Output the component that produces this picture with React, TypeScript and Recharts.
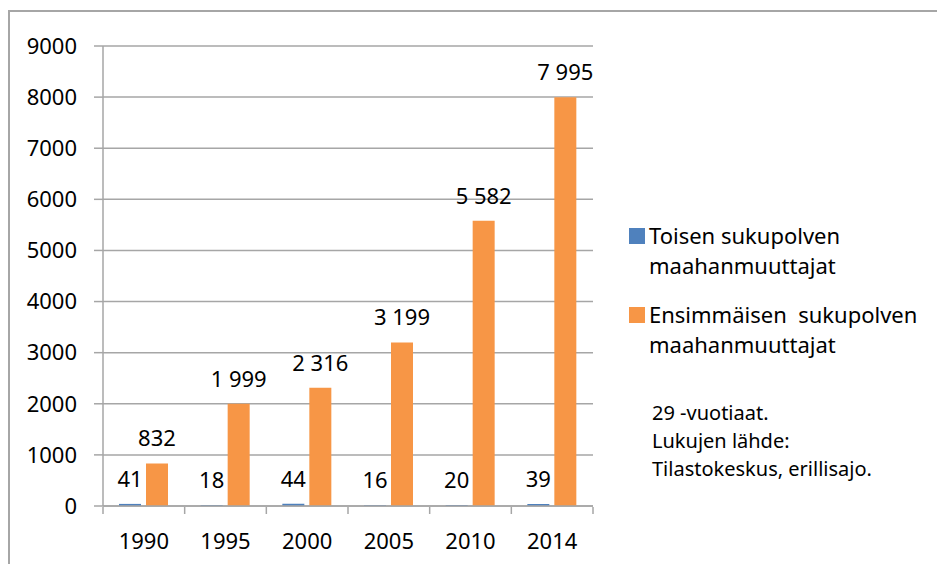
import React from 'react';
import {
  BarChart,
  Bar,
  XAxis,
  YAxis,
  CartesianGrid,
  Legend,
  LabelList,
} from 'recharts';

const years = ['1990', '1995', '2000', '2005', '2010', '2014'];
const toinen = [41, 18, 44, 16, 20, 39];
const ensimmainen = [832, 1999, 2316, 3199, 5582, 7995];
const yTicks = [0, 1000, 2000, 3000, 4000, 5000, 6000, 7000, 8000, 9000];
const noteLines = ['29 -vuotiaat.', 'Lukujen lähde:', 'Tilastokeskus, erillisajo.'];

const SERIES = [
  { key: 'toinen', name: 'Toisen sukupolven maahanmuuttajat', first: 'Toisen sukupolven', color: '#4f81bd' },
  { key: 'ensimmainen', name: 'Ensimmäisen sukupolven maahanmuuttajat', first: 'Ensimmäisen  sukupolven', color: '#f79646' },
];

const FONT = '"Noto Sans", "Open Sans", sans-serif';
const GRID = '#a6a6a6';
const W = 937;
const H = 564;
const MARGIN = { top: 46, right: 344, bottom: 18, left: 0 };
const Y_AXIS_W = 103;
const PLOT_W = W - MARGIN.left - MARGIN.right - Y_AXIS_W;

const data = years.map((y, i) => ({ year: y, toinen: toinen[i], ensimmainen: ensimmainen[i] }));

// thousands separated by a non-breaking space so the label stays on one line
const fmt = (v: number) => String(v).replace(/\B(?=(\d{3})+(?!\d))/g, '\u00a0');

// Excel style: tick marks sit between categories, label in the middle
const XTick = (props: any) => {
  const { x, y, payload, index } = props;
  const half = PLOT_W / years.length / 2;
  return (
    <g>
      <line x1={x - half} y1={y - 7} x2={x - half} y2={y} stroke={GRID} strokeWidth={1.5} />
      {index === years.length - 1 && (
        <line x1={x + half} y1={y - 7} x2={x + half} y2={y} stroke={GRID} strokeWidth={1.5} />
      )}
      <text x={x} y={y + 35} textAnchor="middle" fill="#000" fontSize={22} fontFamily={FONT}>
        {payload.value}
      </text>
    </g>
  );
};

const LegendBox = () => (
  <div style={{ fontFamily: FONT, fontSize: 22, lineHeight: '30px', color: '#000' }}>
    {SERIES.map((s, i) => (
      <div key={s.key} style={{ position: 'relative', paddingLeft: 20, marginBottom: i === 0 ? 19 : 0 }}>
        <span style={{ position: 'absolute', left: 0, top: 7.5, width: 16, height: 16, background: s.color }} />
        <div style={{ whiteSpace: 'pre' }}>{s.first}</div>
        <div>maahanmuuttajat</div>
      </div>
    ))}
  </div>
);

export default function App() {
  return (
    <div style={{ position: 'absolute', left: 0, top: 0, width: W, height: H, background: '#fff', overflow: 'hidden' }}>
      <div
        style={{
          position: 'absolute',
          left: 8,
          top: 10,
          width: W,
          height: H,
          borderTop: `2px solid ${GRID}`,
          borderLeft: `2px solid ${GRID}`,
        }}
      />
      <BarChart width={W} height={H} data={data} margin={MARGIN} barSize={22} barGap={5}>
        <CartesianGrid vertical={false} stroke={GRID} strokeWidth={1.5} />
        <XAxis
          dataKey="year"
          height={40}
          tickLine={false}
          axisLine={{ stroke: GRID, strokeWidth: 1.5 }}
          tick={<XTick />}
          interval={0}
        />
        <YAxis
          width={Y_AXIS_W}
          domain={[0, 9000]}
          ticks={yTicks}
          interval={0}
          tickSize={9}
          tickMargin={17}
          tickLine={{ stroke: GRID, strokeWidth: 1.5 }}
          axisLine={{ stroke: GRID, strokeWidth: 1.5 }}
          tick={{ fill: '#000', fontSize: 22, fontFamily: FONT }}
        />
        <Legend
          layout="horizontal"
          align="center"
          verticalAlign="middle"
          content={<LegendBox />}
          wrapperStyle={{ left: 629, top: 220, width: 300, height: 140 }}
        />
        {SERIES.map(s => (
          <Bar key={s.key} dataKey={s.key} name={s.name} fill={s.color} isAnimationActive={false}>
            <LabelList
              dataKey={s.key}
              position="top"
              offset={17}
              formatter={(v: any) => fmt(Number(v))}
              style={{ fill: '#000', fontSize: 22, fontFamily: FONT }}
            />
          </Bar>
        ))}
      </BarChart>
      <div
        style={{
          position: 'absolute',
          left: 652,
          top: 399,
          fontFamily: FONT,
          fontSize: 20,
          lineHeight: '28px',
          color: '#000',
        }}
      >
        {noteLines.map(l => (
          <div key={l}>{l}</div>
        ))}
      </div>
    </div>
  );
}
